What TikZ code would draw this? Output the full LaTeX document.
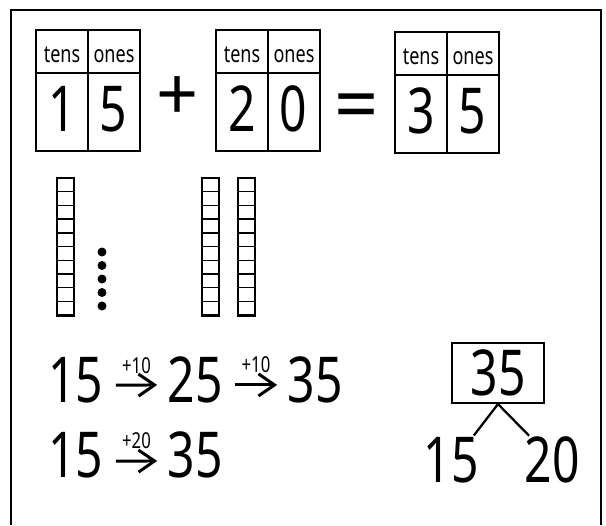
\documentclass[tikz,border=0pt]{standalone}
\usepackage{fontspec}
\setmainfont{Noto Sans}[FakeStretch=0.76]
\newfontfamily\plainsans{Noto Sans}
\usetikzlibrary{arrows.meta,calc}

% place value chart: name, left, top, tens digit, ones digit
\newcommand{\pvchart}[5]{%
  \draw[chart] (#2,#3) rectangle ++(104,121);
  \draw[chart] (#2,#3+43) -- ++(104,0);
  \draw[chart] (#2+52,#3) -- ++(0,121);
  \node[hd] (#1tens) at (#2+26,#3+32) {tens};
  \node[hd] (#1ones) at (#2+78,#3+32) {ones};
  \node[num] (#1t) at (#2+26,#3+101) {#4};
  \node[num] (#1o) at (#2+77,#3+101) {#5};
}
% base ten rod: left, top
\newcommand{\tenrod}[2]{%
  \draw[rod] (#1,#2) rectangle ++(17,137);
  \foreach \k in {1,...,9} \draw[cellline] (#1,#2+13.7*\k) -- ++(17,0);
}

\begin{document}
\begin{tikzpicture}[
  x=0.02cm, y=-0.02cm,
  chart/.style={line width=1.7pt},
  hd/.style={font=\fontsize{13.5}{13.5}\selectfont,anchor=base,inner sep=0pt},
  num/.style={font=\fontsize{36}{36}\selectfont,anchor=base,inner sep=0pt},
  small/.style={font=\fontsize{12.5}{12.5}\selectfont,anchor=base,inner sep=0pt},
  sign/.style={font=\plainsans\fontsize{44}{44}\selectfont,anchor=base,inner sep=0pt},
  arr/.style={-{Straight Barb[length=3.2mm,width=4.4mm]},line width=1.7pt},
  rod/.style={line width=1.7pt},
  cellline/.style={line width=0.8pt},
]
  \useasboundingbox (0,0) rectangle (606,525);

  % open frame, runs off the bottom edge
  \draw[line width=1.7pt] (11,525) -- (11,10) -- (601,10) -- (601,525);

  % 15 + 20 = 35
  \pvchart{A}{36}{30}{1}{5}
  \node[sign,font=\plainsans\bfseries\fontsize{42}{42}\selectfont] (plus) at (178,120) {+};
  \pvchart{B}{216}{30}{2}{0}
  \node[sign] (eq) at (357,131) {=};
  \pvchart{C}{395}{32}{3}{5}

  % blocks
  \tenrod{57}{178}
  \foreach \k in {0,...,4} \fill (102,252+13.5*\k) circle[radius=0.09cm];
  \tenrod{202}{178}
  \tenrod{238}{178}

  % jumps of ten
  \node[num] (a15) at (76,402) {15};
  \node[num] (a25) at (195,402) {25};
  \node[num] (a35) at (315,402) {35};
  \draw[arr] ($(a15.east)+(12,5.5)$) -- ($(a25.west)+(-10,5.5)$)
        node[small,midway,yshift=0.24cm] {+10};
  \draw[arr] ($(a25.east)+(12,5.5)$) -- ($(a35.west)+(-10,5.5)$)
        node[small,midway,yshift=0.24cm] {+10};

  \node[num] (b15) at (76,477) {15};
  \node[num] (b35) at (195,477) {35};
  \draw[arr] ($(b15.east)+(12,6.5)$) -- ($(b35.west)+(-10,6.5)$)
        node[small,midway,yshift=0.26cm] {+20};

  % number bond
  \node[num,anchor=center,draw,line width=1.2pt,minimum width=1.84cm,
        minimum height=1.2cm] (t35) at (498,373) {35};
  \node[num] (t15) at (451,482) {15};
  \node[num] (t20) at (552,482) {20};
  \draw[line width=1.3pt] (t35.south) -- ($(t15.north east)+(-5,-1)$);
  \draw[line width=1.3pt] (t35.south) -- ($(t20.north west)+(5,0)$);
\end{tikzpicture}
\end{document}
